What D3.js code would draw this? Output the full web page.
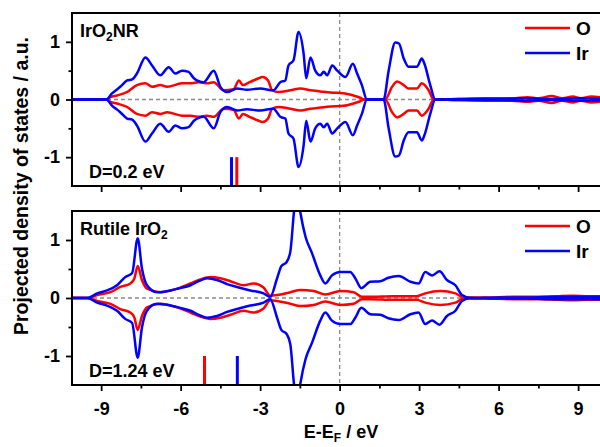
<!DOCTYPE html>
<html>
<head>
<meta charset="utf-8">
<script src="https://cdn.jsdelivr.net/npm/d3@7"></script>
<style>
  body { margin: 0; background: #fff; }
  svg { display: block; }
  text { font-family: "Liberation Sans", Arial, sans-serif; font-weight: bold; }
</style>
</head>
<body>
<div id="chart"></div>
<script>
// energies (eV) and PDOS magnitudes (spin up / down mirrored)
const nrIrE = [-10.1, -8.8, -8.6, -8.28, -8.02, -7.83, -7.65, -7.33, -7.08, -6.77, -6.45, -6.2, -5.95, -5.7, -5.5, -5.13, -4.75, -4.5, -4.25, -3.87, -3.5, -3.0, -2.5, -2.24, -2.05, -1.93, -1.74, -1.55, -1.36, -1.26, -1.1, -0.92, -0.73, -0.6, -0.47, -0.28, -0.09, 0.22, 0.5, 0.66, 0.84, 1.03, 1.66, 1.85, 2.1, 2.24, 2.42, 2.6, 2.92, 3.1, 3.2, 3.42, 3.61, 4.5, 6, 7, 8, 9, 10];
const nrIrV = [0, 0, 0.1, 0.22, 0.33, 0.35, 0.45, 0.73, 0.59, 0.42, 0.56, 0.45, 0.5, 0.48, 0.37, 0.3, 0.5, 0.22, 0.13, 0.19, 0.17, 0.19, 0.16, 0.3, 0.33, 0.59, 0.68, 1.17, 0.8, 0.37, 0.73, 0.5, 0.42, 0.48, 0.42, 0.59, 0.5, 0.39, 0.62, 0.45, 0.25, 0, 0, 0.5, 0.99, 0.97, 0.71, 0.57, 0.57, 0.71, 0.62, 0.25, 0, 0.01, 0.01, 0.02, 0.01, 0.02, 0.01];

const nrOE = [-10.1, -8.8, -8.65, -8.4, -8.02, -7.65, -7.33, -7.08, -6.77, -6.51, -5.95, -5.63, -5.32, -5.0, -4.75, -4.38, -4.0, -3.8, -3.65, -3.4, -3.1, -2.9, -2.7, -2.55, -2.31, -1.86, -1.48, -1.1, -0.73, -0.35, 0.14, 0.52, 0.78, 0.92, 1.72, 1.98, 2.17, 2.42, 2.6, 2.92, 3.1, 3.36, 3.55, 4.5, 5.5, 6.5, 7.1, 7.5, 8.0, 8.4, 8.8, 9.1, 9.5, 10];
const nrOV = [0, 0, 0.04, 0.07, 0.13, 0.25, 0.28, 0.22, 0.25, 0.22, 0.28, 0.28, 0.3, 0.28, 0.3, 0.16, 0.18, 0.33, 0.25, 0.3, 0.36, 0.39, 0.33, 0.16, 0.13, 0.16, 0.19, 0.16, 0.14, 0.12, 0.11, 0.07, 0.03, 0, 0, 0.22, 0.31, 0.25, 0.19, 0.19, 0.28, 0.16, 0, 0.01, 0.02, 0.02, 0.04, 0.02, 0.06, 0.02, 0.05, 0.02, 0.05, 0.03];

const ruIrE = [-10.1, -9.53, -9.15, -8.78, -8.4, -8.09, -7.83, -7.62, -7.46, -7.27, -6.89, -6.39, -6.01, -5.63, -5.32, -5.0, -4.63, -4.25, -3.87, -3.37, -2.87, -2.62, -2.36, -2.2, -2.0, -1.86, -1.73, -1.62, -1.48, -1.29, -1.04, -0.73, -0.54, -0.29, 0.03, 0.4, 0.59, 0.82, 1.16, 1.53, 1.84, 2.23, 2.67, 2.98, 3.23, 3.49, 3.77, 4.05, 4.37, 4.62, 4.93, 6, 7, 8, 9, 10];
const ruIrV = [0, 0, 0.08, 0.13, 0.22, 0.36, 0.43, 1.03, 0.51, 0.22, 0.1, 0.13, 0.17, 0.22, 0.29, 0.34, 0.31, 0.24, 0.19, 0.13, 0.08, 0.02, 0.34, 0.55, 0.62, 0.8, 1.45, 1.9, 1.47, 1.06, 0.77, 0.39, 0.25, 0.39, 0.45, 0.45, 0.34, 0.17, 0.28, 0.29, 0.35, 0.38, 0.28, 0.25, 0.45, 0.39, 0.46, 0.31, 0.22, 0.05, 0, 0.01, 0.01, 0.02, 0.02, 0.02];

const ruOE = [-10.1, -9.53, -9.15, -8.65, -8.28, -7.9, -7.75, -7.62, -7.46, -7.27, -6.77, -6.14, -5.63, -5.26, -4.88, -4.5, -4.12, -3.62, -3.26, -2.87, -2.62, -2.36, -1.86, -1.48, -0.98, -0.54, 0.03, 0.53, 0.84, 1.16, 2.0, 2.9, 3.23, 3.8, 4.37, 4.67, 5.5, 6.5, 7.5, 8.2, 8.8, 9.4, 10];
const ruOV = [0, 0, 0.05, 0.1, 0.19, 0.25, 0.33, 0.55, 0.31, 0.16, 0.1, 0.16, 0.25, 0.32, 0.36, 0.34, 0.29, 0.22, 0.25, 0.18, 0.04, 0.05, 0.1, 0.14, 0.12, 0.06, 0.12, 0.1, 0.02, 0.02, 0.03, 0.03, 0.08, 0.12, 0.08, 0.01, 0.01, 0.02, 0.02, 0.03, 0.04, 0.03, 0.03];

// band centres (eV): [O, Ir]
const nrCentres = [-3.88, -4.08];
const ruCentres = [-5.1, -3.86];

const panelNames = ["IrO\u2082NR", "Rutile IrO\u2082"];
const gapLabels = ["D=0.2 eV", "D=1.24 eV"];
const legendLabels = ["O", "Ir"];
const colors = ["#ff0000", "#0000ff"];

const xMajor = [-9, -6, -3, 0, 3, 6, 9];
const xMinor = [-7.5, -4.5, -1.5, 1.5, 4.5, 7.5];
const yMajor = [-1, 0, 1];
const yMinor = [-0.5, 0.5];

const width = 600, height = 447;
const left = 72, right = 604.6;
const panels = [
  { top: 13, bottom: 186, series: [[nrOE, nrOV], [nrIrE, nrIrV]], centres: nrCentres },
  { top: 211, bottom: 385, series: [[ruOE, ruOV], [ruIrE, ruIrV]], centres: ruCentres }
];

const svg = d3.select("#chart").append("svg")
  .attr("width", width)
  .attr("height", height);

const x = d3.scaleLinear().domain([-10.1, 10]).range([left, right]);

panels.forEach((p, i) => {
  const y = d3.scaleLinear().domain([-1.5, 1.5]).range([p.bottom, p.top]);
  const g = svg.append("g");

  g.append("clipPath").attr("id", "clip" + i)
    .append("rect")
    .attr("x", left).attr("y", p.top)
    .attr("width", right - left).attr("height", p.bottom - p.top);

  const plot = g.append("g").attr("clip-path", `url(#clip${i})`);

  // reference lines
  plot.append("line")
    .attr("x1", left).attr("x2", right)
    .attr("y1", y(0)).attr("y2", y(0))
    .attr("stroke", "#8a8a8a").attr("stroke-width", 1.5)
    .attr("stroke-dasharray", "4,3");
  plot.append("line")
    .attr("x1", x(0)).attr("x2", x(0))
    .attr("y1", p.top).attr("y2", p.bottom)
    .attr("stroke", "#8a8a8a").attr("stroke-width", 1.3)
    .attr("stroke-dasharray", "4,3");

  // curves: O first, Ir on top; both spin channels
  p.series.forEach(([es, vs], k) => {
    const pts = es.map((e, j) => [e, vs[j]]);
    [1, -1].forEach(sign => {
      const line = d3.line()
        .x(d => x(d[0]))
        .y(d => y(sign * d[1]))
        .curve(d3.curveMonotoneX);
      plot.append("path")
        .datum(pts)
        .attr("d", line)
        .attr("fill", "none")
        .attr("stroke", colors[k])
        .attr("stroke-width", 2.5)
        .attr("stroke-linejoin", "round");
    });
  });

  // band centre markers
  plot.selectAll(".centre")
    .data(p.centres)
    .enter()
    .append("line")
    .attr("x1", d => x(d)).attr("x2", d => x(d))
    .attr("y1", y(-1.0)).attr("y2", y(-1.5))
    .attr("stroke", (d, k) => colors[k])
    .attr("stroke-width", 3);

  // frame
  g.append("rect")
    .attr("x", left).attr("y", p.top)
    .attr("width", right - left).attr("height", p.bottom - p.top)
    .attr("fill", "none").attr("stroke", "#000").attr("stroke-width", 2);

  // axes
  const xAx = g.append("g").attr("transform", `translate(0,${p.bottom})`)
    .call(d3.axisBottom(x).tickValues(xMajor).tickSize(6).tickSizeOuter(0)
      .tickFormat(i === 1 ? d => String(d) : ""));
  g.append("g").attr("transform", `translate(0,${p.bottom})`)
    .call(d3.axisBottom(x).tickValues(xMinor).tickSize(3.5).tickSizeOuter(0).tickFormat(""));
  const yAx = g.append("g").attr("transform", `translate(${left},0)`)
    .call(d3.axisLeft(y).tickValues(yMajor).tickSize(6).tickSizeOuter(0).tickFormat(d => String(d)));
  g.append("g").attr("transform", `translate(${left},0)`)
    .call(d3.axisLeft(y).tickValues(yMinor).tickSize(3.5).tickSizeOuter(0).tickFormat(""));

  g.selectAll(".domain").remove();
  g.selectAll(".tick line").attr("stroke", "#000").attr("stroke-width", 1.8);
  xAx.selectAll("text").attr("dy", "1.15em").style("font-size", "18px").attr("fill", "#000");
  yAx.selectAll("text").attr("dx", "-3").style("font-size", "18px").attr("fill", "#000");

  // panel labels, with the "2" lowered as a subscript
  const nameText = g.append("text")
    .attr("x", 80).attr("y", p.top + 24)
    .style("font-size", "18px");
  const name = panelNames[i];
  const idx = name.indexOf("\u2082");
  nameText.append("tspan").text(name.slice(0, idx));
  nameText.append("tspan").attr("dy", 4).style("font-size", "12px").text("2");
  if (idx + 1 < name.length) nameText.append("tspan").attr("dy", -4).text(name.slice(idx + 1));

  g.append("text")
    .attr("x", 89).attr("y", p.bottom - 8)
    .style("font-size", "18px")
    .text(gapLabels[i]);

  // legend
  const leg = g.selectAll(".leg")
    .data(legendLabels)
    .enter()
    .append("g")
    .attr("transform", (d, k) => `translate(525,${p.top + 15 + k * 25})`);
  leg.append("line")
    .attr("x1", 0).attr("x2", 45)
    .attr("stroke", (d, k) => colors[k])
    .attr("stroke-width", 2.5);
  leg.append("text")
    .attr("x", 51).attr("y", 7)
    .style("font-size", "19px")
    .text(d => d);
});

// axis titles
const xt = svg.append("text")
  .attr("x", 341).attr("y", 438)
  .attr("text-anchor", "middle")
  .style("font-size", "18px");
xt.append("tspan").text("E-E");
xt.append("tspan").attr("dy", 4).style("font-size", "12px").text("F");
xt.append("tspan").attr("dy", -4).text(" / eV");

svg.append("text")
  .attr("transform", "translate(28,186) rotate(-90)")
  .attr("text-anchor", "middle")
  .style("font-size", "19.5px")
  .text("Projected density of states / a.u.");
</script>
</body>
</html>
